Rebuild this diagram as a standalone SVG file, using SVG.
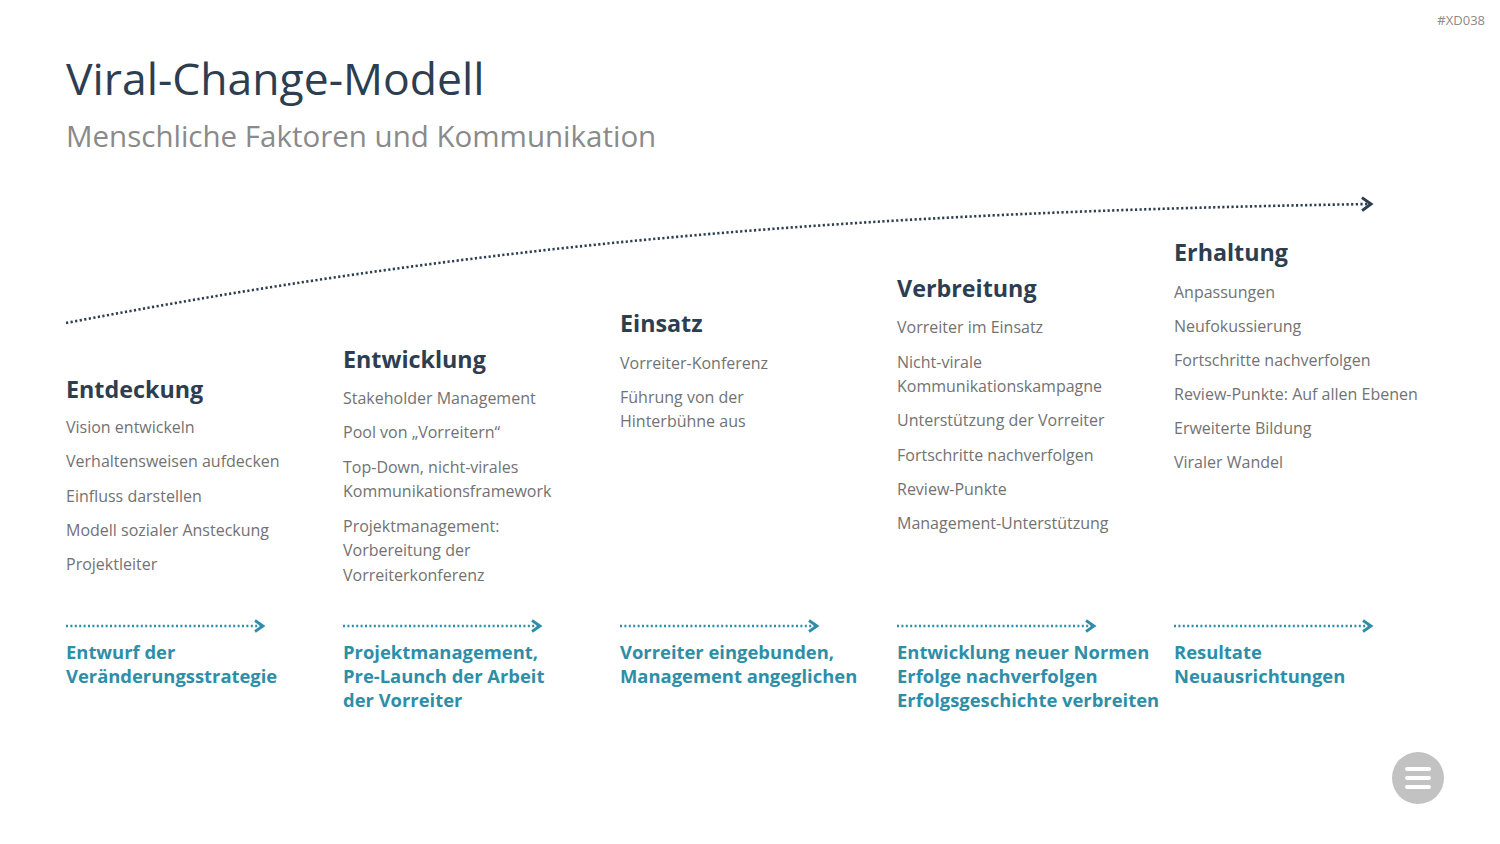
<svg xmlns="http://www.w3.org/2000/svg" width="1500" height="844" viewBox="0 0 1500 844">
<defs>
<marker id="chevD" viewBox="0 0 14 16" refX="11" refY="8" markerWidth="14" markerHeight="16" markerUnits="userSpaceOnUse" orient="auto" overflow="visible">
<path d="M2,1.5 L11,8 L2,14.5" fill="none" stroke="#2c3e50" stroke-width="3"/>
</marker>
<marker id="chevT" viewBox="0 0 14 16" refX="11" refY="8" markerWidth="14" markerHeight="16" markerUnits="userSpaceOnUse" orient="auto" overflow="visible">
<path d="M3,2.5 L11,8 L3,13.5" fill="none" stroke="#2e8ea8" stroke-width="2.8"/>
</marker>
</defs>
<style>
text{font-family:"Open Sans","Noto Sans","Liberation Sans",sans-serif}
.title{font-size:44.5px;fill:#2c3e50}
.sub{font-size:29.5px;fill:#8a8a8a}
.tag{font-size:13px;fill:#8a8a8a}
.h{font-size:23.3px;font-weight:700;fill:#2c3e50}
.it{font-size:16px;fill:#727272}
.res{font-size:18.4px;font-weight:700;fill:#2e8ea8}
.dd{fill:none;stroke:#2c3e50;stroke-width:2.6;stroke-dasharray:2.2 2.4}
.dt{fill:none;stroke:#2e8ea8;stroke-width:2.4;stroke-dasharray:2 2.4}
</style>
<rect width="1500" height="844" fill="#ffffff"/>
<text class="tag" x="1485" y="25" text-anchor="end">#XD038</text>
<text class="title" x="66" y="95">Viral-Change-Modell</text>
<text class="sub" x="66" y="147">Menschliche Faktoren und Kommunikation</text>
<g id="connectors">
<path class="dd" d="M66,323 C500,240 870,212 1371,204" marker-end="url(#chevD)"/>
<path class="dt" d="M66,626 H263" marker-end="url(#chevT)"/>
<path class="dt" d="M343,626 H540" marker-end="url(#chevT)"/>
<path class="dt" d="M620,626 H817" marker-end="url(#chevT)"/>
<path class="dt" d="M897,626 H1094" marker-end="url(#chevT)"/>
<path class="dt" d="M1174,626 H1371" marker-end="url(#chevT)"/>
</g>
<g id="entdeckung">
<text class="h" x="66" y="398">Entdeckung</text>
<text class="it" x="66" y="433">Vision entwickeln</text>
<text class="it" x="66" y="467">Verhaltensweisen aufdecken</text>
<text class="it" x="66" y="502">Einfluss darstellen</text>
<text class="it" x="66" y="536">Modell sozialer Ansteckung</text>
<text class="it" x="66" y="570">Projektleiter</text>
</g>
<g id="entwicklung">
<text class="h" x="343" y="368">Entwicklung</text>
<text class="it" x="343" y="404">Stakeholder Management</text>
<text class="it" x="343" y="438">Pool von „Vorreitern“</text>
<text class="it" x="343" y="473">Top-Down, nicht-virales</text>
<text class="it" x="343" y="497">Kommunikationsframework</text>
<text class="it" x="343" y="532">Projektmanagement:</text>
<text class="it" x="343" y="556">Vorbereitung der</text>
<text class="it" x="343" y="581">Vorreiterkonferenz</text>
</g>
<g id="einsatz">
<text class="h" x="620" y="332">Einsatz</text>
<text class="it" x="620" y="369">Vorreiter-Konferenz</text>
<text class="it" x="620" y="403">Führung von der</text>
<text class="it" x="620" y="427">Hinterbühne aus</text>
</g>
<g id="verbreitung">
<text class="h" x="897" y="297">Verbreitung</text>
<text class="it" x="897" y="333">Vorreiter im Einsatz</text>
<text class="it" x="897" y="368">Nicht-virale</text>
<text class="it" x="897" y="392">Kommunikationskampagne</text>
<text class="it" x="897" y="426">Unterstützung der Vorreiter</text>
<text class="it" x="897" y="461">Fortschritte nachverfolgen</text>
<text class="it" x="897" y="495">Review-Punkte</text>
<text class="it" x="897" y="529">Management-Unterstützung</text>
</g>
<g id="erhaltung">
<text class="h" x="1174" y="261">Erhaltung</text>
<text class="it" x="1174" y="298">Anpassungen</text>
<text class="it" x="1174" y="332">Neufokussierung</text>
<text class="it" x="1174" y="366">Fortschritte nachverfolgen</text>
<text class="it" x="1174" y="400">Review-Punkte: Auf allen Ebenen</text>
<text class="it" x="1174" y="434">Erweiterte Bildung</text>
<text class="it" x="1174" y="468">Viraler Wandel</text>
</g>
<g id="ergebnis1">
<text class="res" x="66" y="659">Entwurf der</text>
<text class="res" x="66" y="683">Veränderungsstrategie</text>
</g>
<g id="ergebnis2">
<text class="res" x="343" y="659">Projektmanagement,</text>
<text class="res" x="343" y="683">Pre-Launch der Arbeit</text>
<text class="res" x="343" y="707">der Vorreiter</text>
</g>
<g id="ergebnis3">
<text class="res" x="620" y="659">Vorreiter eingebunden,</text>
<text class="res" x="620" y="683">Management angeglichen</text>
</g>
<g id="ergebnis4">
<text class="res" x="897" y="659">Entwicklung neuer Normen</text>
<text class="res" x="897" y="683">Erfolge nachverfolgen</text>
<text class="res" x="897" y="707">Erfolgsgeschichte verbreiten</text>
</g>
<g id="ergebnis5">
<text class="res" x="1174" y="659">Resultate</text>
<text class="res" x="1174" y="683">Neuausrichtungen</text>
</g>
<g id="menu">
<circle cx="1418" cy="778" r="26" fill="#c2c2c2"/>
<rect x="1405" y="767" width="26" height="4" rx="2" fill="#ffffff"/>
<rect x="1405" y="776" width="26" height="4" rx="2" fill="#ffffff"/>
<rect x="1405" y="785" width="26" height="4" rx="2" fill="#ffffff"/>
</g>
</svg>
